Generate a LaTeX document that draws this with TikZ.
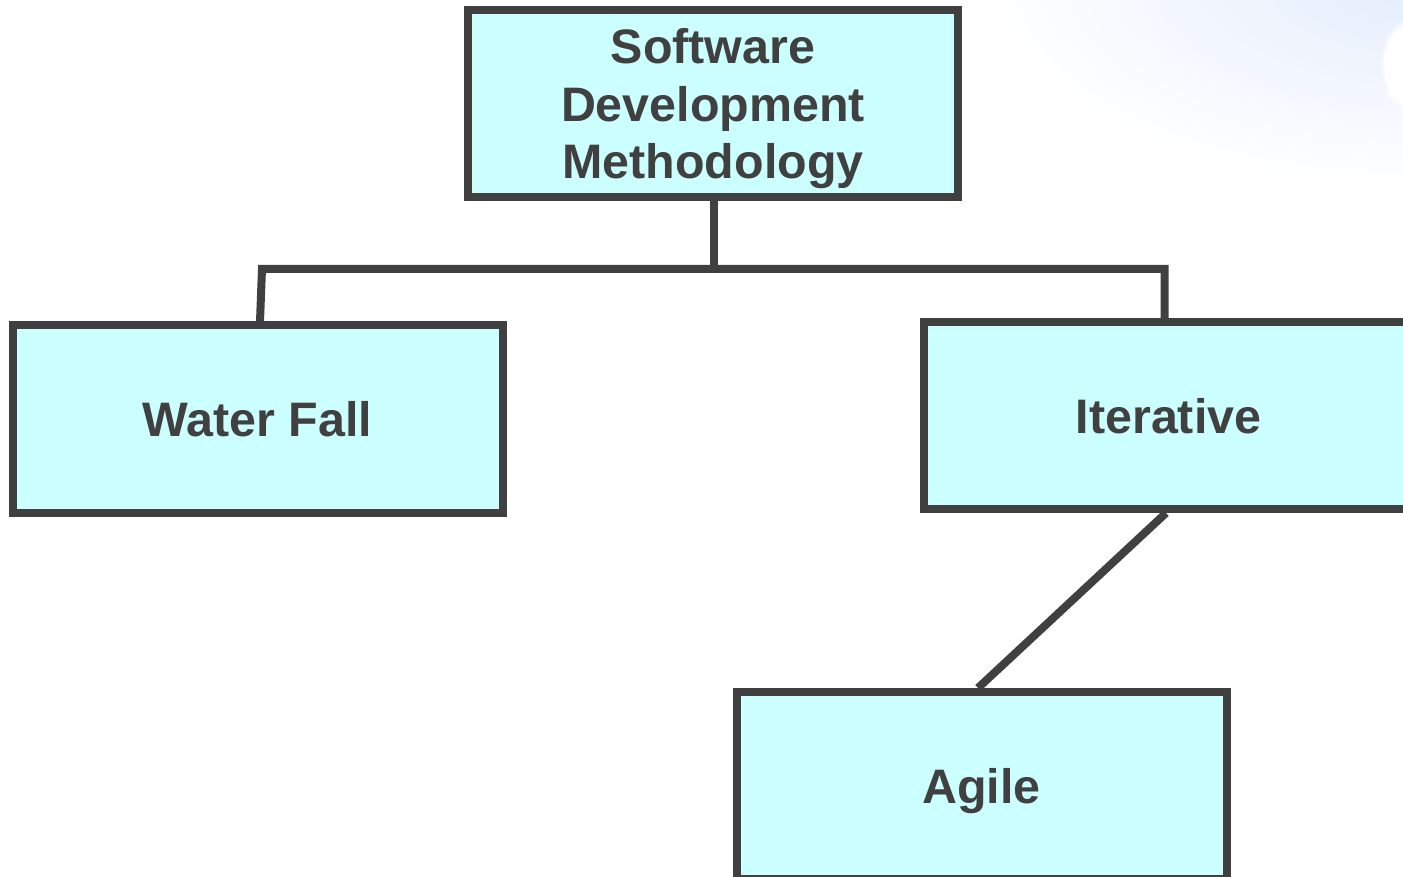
\documentclass[tikz,border=0pt]{standalone}
\usepackage{fontspec}
\setmainfont{Liberation Sans}
\usetikzlibrary{calc,fadings}
\definecolor{boxfill}{HTML}{CCFFFF}
\definecolor{ink}{HTML}{404040}
\definecolor{sky}{RGB}{228,237,252}
\tikzset{
  methodbox/.style={draw=ink, fill=boxfill, line width=4pt, rectangle,
    minimum width=245pt, minimum height=93.5pt, inner sep=0pt,
    text=ink, font=\bfseries\fontsize{24.2}{28.75}\selectfont, align=center},
  boxtext/.style={inner sep=0pt, text=ink, font=\bfseries\fontsize{24.2}{28.75}\selectfont, align=center},
  oneline/.style={text height=17.5pt, text depth=0pt},
  link/.style={draw=ink, line width=4pt, line join=miter, line cap=butt}
}
\begin{document}
\begin{tikzpicture}[x=0.5pt,y=-0.5pt]
\useasboundingbox (0,0) rectangle (1403,877);
\begin{scope}
  \clip (0,0) rectangle (1403,877);
  \shade[inner color=sky, outer color=white] (1420,-20) ellipse [x radius=440, y radius=210];
  \fill[white, path fading=circle with fuzzy edge 20 percent] (1405,65) ellipse [x radius=25, y radius=45];
\end{scope}
\node[methodbox] (sdm) at (713,103.5) {};
\node[boxtext] (sdmtext) at (713,109) {Software\\Development\\Methodology};
\node[methodbox, oneline] (wf) at (257.5,419) {Water Fall};
\node[methodbox, oneline] (it) at (1168.5,415.5) {Iterative};
\node[methodbox, oneline] (ag) at (981.5,785.5) {Agile};
\coordinate (hl) at (262,269);
\coordinate (hr) at (1164.5,269);
\coordinate (hm) at (714,269);
\draw[link] ($(sdm.south)+(1,0)$) -- (hm);
\draw[link] ($(wf.north)+(2.5,0)$) -- (hl) -- (hr) -- (it.north -| hr);
\draw[link] ($(it.south)+(-2.5,0)$) -- ($(ag.north)+(-3.5,0)$);
\end{tikzpicture}
\end{document}
